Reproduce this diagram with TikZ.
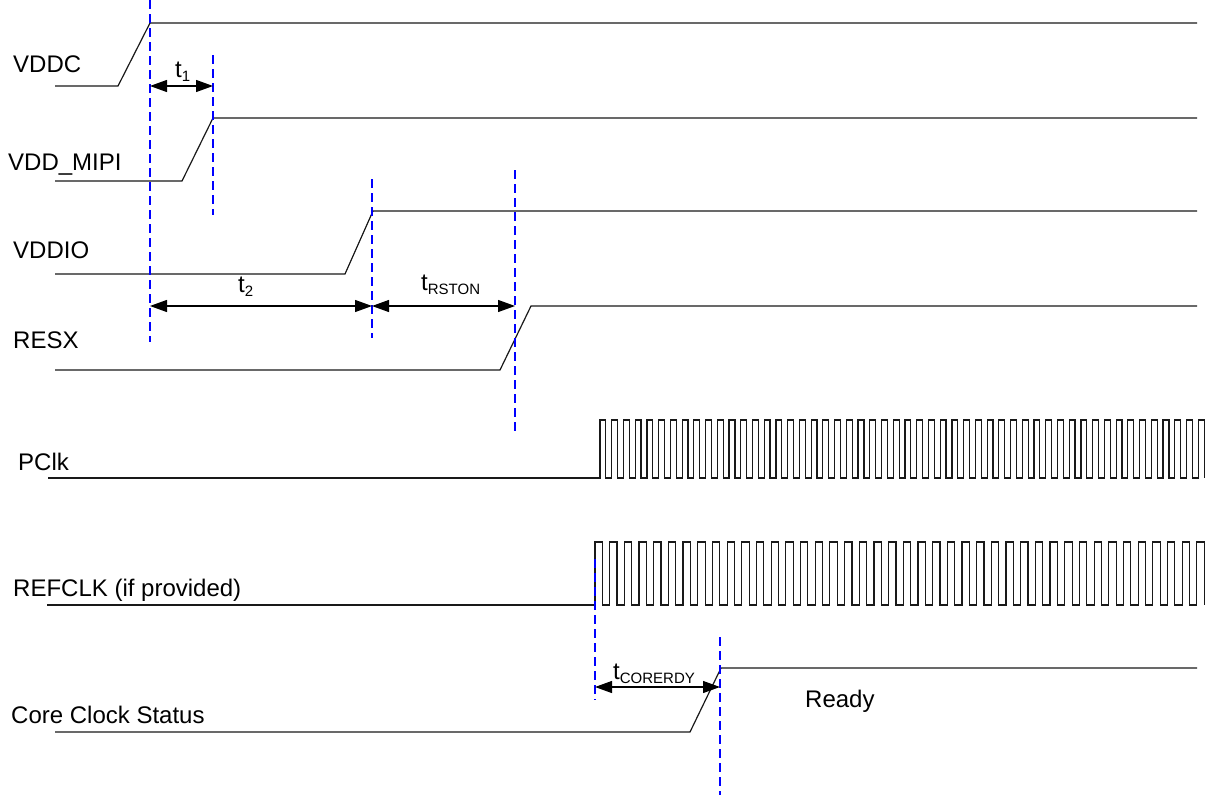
\documentclass[tikz,border=0pt]{standalone}
\usepackage{fontspec}
\setmainfont{Liberation Sans}
\usetikzlibrary{arrows.meta}
\newcommand{\tsubscr}[1]{t\raisebox{-4pt}{\fontsize{15}{17}\selectfont #1}}
\tikzset{
  sig/.style={line width=1.2pt, black!90},
  vdash/.style={line width=1.2pt, color={rgb,255:red,0;green,0;blue,255}, dash pattern=on 9pt off 5pt},
  dim/.style={line width=1.2pt, black, {Triangle[length=17pt,width=12pt]}-{Triangle[length=17pt,width=12pt]}},
  lbl/.style={anchor=base west, inner sep=0pt, font=\fontsize{24}{28}\selectfont},
}
\begin{document}
\begin{tikzpicture}[x=1pt,y=-1pt]
\useasboundingbox (0,0) rectangle (1207,795);
% labels
\node[lbl] (lvddc) at (13,72) {VDDC};
\node[lbl] (lmipi) at (8,170) {VDD\_MIPI};
\node[lbl] (lvddio) at (13,258) {VDDIO};
\node[lbl] (lresx) at (13,348) {RESX};
\node[lbl] (lpclk) at (18,470) {PClk};
\node[lbl] (lref) at (13,596) {REFCLK (if provided)};
\node[lbl] (lcore) at (11,723) {Core Clock Status};
\node[lbl] (lready) at (805,707) {Ready};
% waveforms
\draw[sig] (55,86) -- (118,86) -- (150,23) -- (1197,23);
\draw[sig] (55,181) -- (182,181) -- (213,118) -- (1197,118);
\draw[sig] (55,274) -- (345,274) -- (373,211) -- (1197,211);
\draw[sig] (55,370) -- (500,370) -- (531,306) -- (1197,306);
\draw[sig] (48,478) -- (600,478)
  \foreach \k in {1,...,51} { -- ++(0,-58) -- ++(5.865,0) -- ++(0,58) -- ++(5.865,0) }
  -- ++(0,-58) -- ++(5.865,0) -- ++(0,58);
\draw[sig] (47,605) -- (595,605)
  \foreach \k in {1,...,41} { -- ++(0,-63) -- ++(7.34,0) -- ++(0,63) -- ++(7.34,0) }
  -- ++(0,-63) -- ++(7.34,0) -- ++(0,63);
\draw[sig] (55,732) -- (690,732) -- (721,668) -- (1197,668);
% dashed markers
\coordinate (d1t) at (150,0);   \coordinate (d1b) at (150,342);
\coordinate (d2t) at (213,55);  \coordinate (d2b) at (213,215);
\coordinate (d3t) at (372,179); \coordinate (d3b) at (372,338);
\coordinate (d4t) at (515,170); \coordinate (d4b) at (515,433);
\coordinate (d5t) at (595,559); \coordinate (d5b) at (595,700);
\coordinate (d6t) at (720,637); \coordinate (d6b) at (720,795);
\foreach \i in {1,...,6} { \draw[vdash] (d\i t) -- (d\i b); }
% dimension arrows
\coordinate (a1l) at (150,86);  \coordinate (a1r) at (213,86);
\coordinate (a2l) at (150,306); \coordinate (a2r) at (372,306);
\coordinate (a3l) at (372,306); \coordinate (a3r) at (515,306);
\coordinate (a4l) at (595,687); \coordinate (a4r) at (720,687);
\draw[dim] (a1l) -- (a1r);
\draw[dim] (a2l) -- (a2r);
\draw[dim] (a3l) -- (a3r);
\draw[dim] (a4l) -- (a4r);
\node[lbl] (lt1) at (175,77) {\tsubscr{1}};
\node[lbl] (lt2) at (238,292) {\tsubscr{2}};
\node[lbl] (lt3) at (421,290) {\tsubscr{RSTON}};
\node[lbl] (lt4) at (613,679) {\tsubscr{CORERDY}};
\end{tikzpicture}
\end{document}
